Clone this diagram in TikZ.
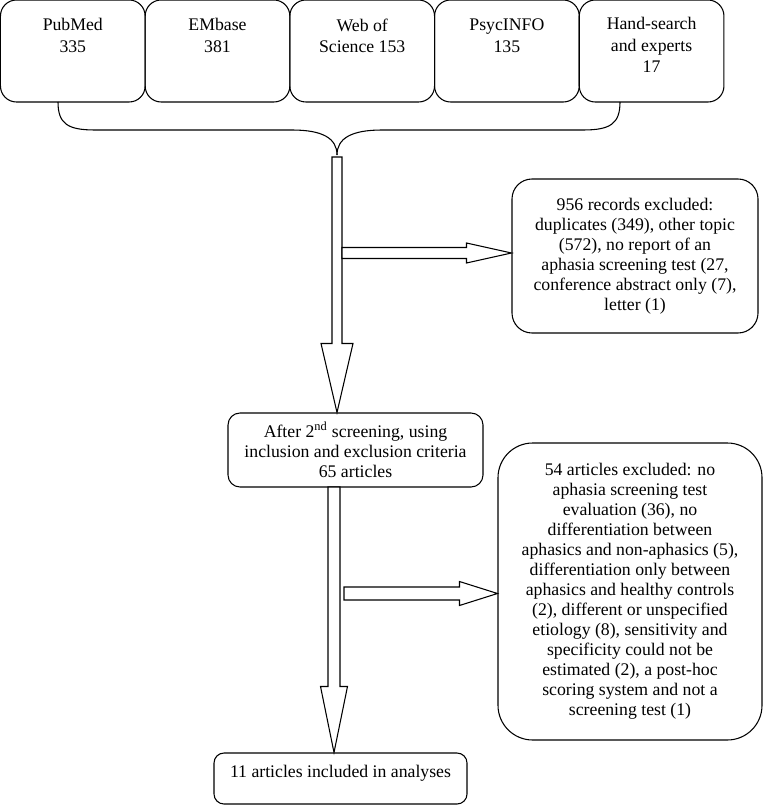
\documentclass[tikz,border=0pt]{standalone}
\usepackage{fontspec}
\setmainfont{Liberation Serif}
\usetikzlibrary{positioning,calc}

\tikzset{
  txt/.style={font=\fontsize{13.3}{15}\selectfont, align=center, inner sep=0pt},
  srcbox/.style={rectangle, draw, rounded corners=12pt, minimum width=108.5pt, minimum height=76.5pt, inner sep=0pt},
  srctext/.style={txt, font=\fontsize{13.3}{16.2}\selectfont},
  flowbox/.style={rectangle, draw, txt},
  blockarrow/.style={draw, line join=miter, fill=white}
}

% vertical block arrow: from, to, shaft half width, head half width, head length (px)
\newcommand{\vblock}[5]{%
  \draw[blockarrow] let \p1=(#1), \p2=(#2) in
    (\x1-#3*0.75pt,\y1) -- (\x1-#3*0.75pt,\y2+#5*0.75pt) -- (\x1-#4*0.75pt,\y2+#5*0.75pt)
    -- (\x1,\y2) -- (\x1+#4*0.75pt,\y2+#5*0.75pt) -- (\x1+#3*0.75pt,\y2+#5*0.75pt)
    -- (\x1+#3*0.75pt,\y1) -- cycle;}
% horizontal block arrow
\newcommand{\hblock}[5]{%
  \draw[blockarrow] let \p1=(#1), \p2=(#2) in
    (\x1,\y1+#3*0.75pt) -- (\x2-#5*0.75pt,\y1+#3*0.75pt) -- (\x2-#5*0.75pt,\y1+#4*0.75pt)
    -- (\x2,\y1) -- (\x2-#5*0.75pt,\y1-#4*0.75pt) -- (\x2-#5*0.75pt,\y1-#3*0.75pt)
    -- (\x1,\y1-#3*0.75pt) -- cycle;}

\begin{document}
\begin{tikzpicture}[x=0.75pt, y=-0.75pt, line width=0.8pt]
  \useasboundingbox (0,0) rectangle (767,805);
  % Sources
  \node (pubmed) [srcbox] at (72.8,51) {};
  \node (embase) [srcbox] at (217.5,51) {};
  \node (wos) [srcbox] at (362.2,51) {};
  \node (psyc) [srcbox] at (506.9,51) {};
  \node (hand) [srcbox] at (651.6,51) {};
  \node (pubmed-t) [srctext, below=14pt of pubmed.north] {PubMed\\335};
  \node (embase-t) [srctext, below=14pt of embase.north] {EMbase\\381};
  \node (wos-t) [srctext, below=14pt of wos.north] {Web of\\Science 153};
  \node (psyc-t) [srctext, below=14pt of psyc.north] {PsycINFO\\135};
  \node (hand-t) [srctext, below=13pt of hand.north] {Hand-search\\and experts\\17};
  % Screening
  \node (excl1) [flowbox, rounded corners=15pt, minimum width=184.5pt, minimum height=115.5pt] at (635,256)
    {956 records excluded:\\duplicates (349), other topic\\(572), no report of an\\aphasia screening test (27,\\conference abstract only (7),\\letter (1)};
  \node (after) [flowbox, rounded corners=9pt, minimum width=191.25pt, minimum height=55.5pt] at (355.5,450)
    {After 2\textsuperscript{nd} screening, using\\inclusion and exclusion criteria\\65 articles};
  \node (excl2) [flowbox, rounded corners=26pt, minimum width=198pt, minimum height=222.75pt] at (630,591.5)
    {54 articles excluded: no\\aphasia screening test\\evaluation (36), no\\differentiation between\\aphasics and non-aphasics (5),\\differentiation only between\\aphasics and healthy controls\\(2), different or unspecified\\etiology (8), sensitivity and\\specificity could not be\\estimated (2), a post-hoc\\scoring system and not a\\screening test (1)};
  \node (final) [flowbox, rounded corners=7.5pt, minimum width=189.75pt, minimum height=38.25pt, text height=18pt, text depth=20.25pt] at (340.5,778.5)
    {11 articles included in analyses};
  % Brace
  \coordinate (brace-l) at (58,102);
  \coordinate (brace-r) at (620,102);
  \coordinate (brace-tip) at (337,155);
  \draw (brace-l) .. controls (58,124) and (68,130) .. (95,130) -- (292,130)
    .. controls (322,130) and (337,138) .. (brace-tip);
  \draw (brace-r) .. controls (620,124) and (610,130) .. (583,130) -- (382,130)
    .. controls (352,130) and (337,138) .. (brace-tip);
  % Arrows
  \coordinate (trunk1) at (337,157);
  \coordinate (branch1) at (342,253);
  \coordinate (trunk2) at (334,487);
  \coordinate (branch2) at (344,593.5);
  \vblock{trunk1}{after.north}{5}{16}{69}
  \hblock{branch1}{excl1.west}{5.5}{10}{45}
  \vblock{trunk2}{final.north}{6}{13.5}{66}
  \hblock{branch2}{excl2.west}{6.5}{12}{38}
\end{tikzpicture}
\end{document}
